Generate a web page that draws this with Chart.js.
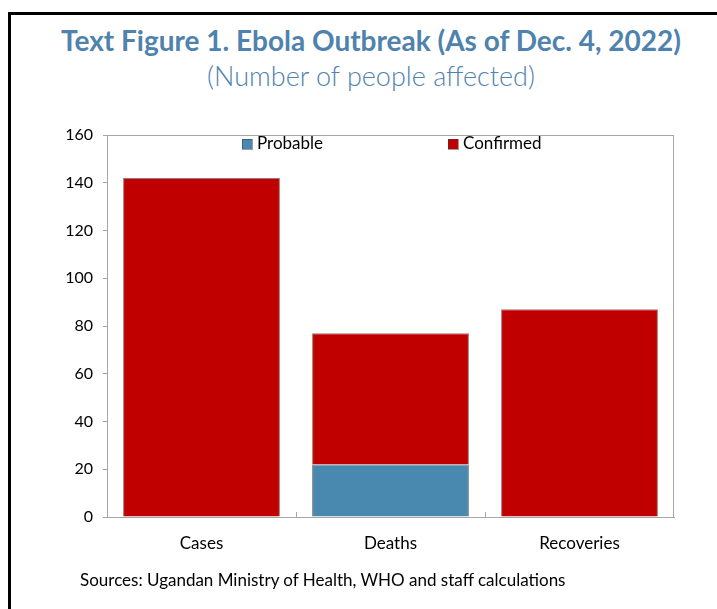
<!DOCTYPE html>
<html>
<head>
<meta charset="utf-8">
<script src="https://cdn.jsdelivr.net/npm/chart.js@4"></script>
<style>
  body { margin: 0; background: #fff; }
  #wrap { position: relative; width: 717px; height: 609px; overflow: hidden; }
  #frame { position: absolute; left: 8px; top: 12px; width: 720px; height: 620px;
           border-left: 3px solid #000; border-top: 3px solid #000; box-sizing: border-box; }
  .title { position: absolute; left: 0; width: 742px; text-align: center; color: #4f82ad;
           font-family: Lato, "Open Sans", sans-serif; }
  #t1 { top: 23px; font-size: 28px; font-weight: bold; }
  #t2 { top: 59px; font-size: 27px; font-weight: 300; }
  #src { position: absolute; left: 80px; top: 569px; font-family: Lato, sans-serif; font-size: 17px; color: #000; }
  canvas { position: absolute; left: 0; top: 0; }
</style>
</head>
<body>
<div id="wrap">
  <div id="frame"></div>
  <div class="title" id="t1">Text Figure 1. Ebola Outbreak (As of Dec. 4, 2022)</div>
  <div class="title" id="t2">(Number of people affected)</div>
  <canvas id="chart" width="717" height="609"></canvas>
  <div id="src">Sources: Ugandan Ministry of Health, WHO and staff calculations</div>
</div>
<script>
const categories = ["Cases", "Deaths", "Recoveries"];
const probable = [0, 22, 0];
const confirmed = [142, 55, 87];
const yTicks = [0, 20, 40, 60, 80, 100, 120, 140, 160];

const axisGrey = "#a6a6a6";

// cadre gris autour de la zone du graphique + petits traits de l'axe x + légende interne
const framePlugin = {
  id: "framePlugin",
  afterDraw(chart) {
    const { ctx, chartArea: a } = chart;
    ctx.save();
    ctx.strokeStyle = axisGrey;
    ctx.lineWidth = 1;
    ctx.strokeRect(a.left + 0.5, a.top + 0.5, a.right - a.left - 1, a.bottom - a.top);
    // traits entre catégories, vers l'intérieur
    const step = (a.right - a.left) / categories.length;
    for (let i = 1; i < categories.length; i++) {
      const x = Math.round(a.left + step * i) + 0.5;
      ctx.beginPath();
      ctx.moveTo(x, a.bottom);
      ctx.lineTo(x, a.bottom - 5);
      ctx.stroke();
    }
    // légende dans le cadre
    const items = [
      { label: "Probable", color: "#4a89af", x: 0.238 },
      { label: "Confirmed", color: "#c00000", x: 0.601 },
    ];
    ctx.font = "17px Lato, sans-serif";
    ctx.textBaseline = "middle";
    items.forEach((it) => {
      const x = Math.round(a.left + (a.right - a.left) * it.x);
      const y = a.top + 4;
      ctx.fillStyle = it.color;
      ctx.fillRect(x, y, 10, 10);
      ctx.strokeStyle = "rgba(60,60,60,0.5)";
      ctx.strokeRect(x + 0.5, y + 0.5, 10, 10);
      ctx.fillStyle = "#000";
      ctx.fillText(it.label, x + 15, y + 5);
    });
    ctx.restore();
  },
};

new Chart(document.getElementById("chart"), {
  type: "bar",
  data: {
    labels: categories,
    datasets: [
      {
        label: "Probable",
        data: probable,
        backgroundColor: "#4a89af",
        borderColor: "rgba(50,50,50,0.6)",
        borderWidth: 1,
        barPercentage: 0.83,
        categoryPercentage: 1,
      },
      {
        label: "Confirmed",
        data: confirmed,
        backgroundColor: "#c00000",
        borderColor: "rgba(90,30,30,0.6)",
        borderWidth: 1,
        barPercentage: 0.83,
        categoryPercentage: 1,
      },
    ],
  },
  options: {
    responsive: false,
    animation: false,
    layout: { padding: { left: 57, right: 43, top: 135, bottom: 52 } },
    plugins: {
      legend: { display: false },
      tooltip: { enabled: false },
    },
    scales: {
      x: {
        stacked: true,
        grid: { display: false },
        border: { color: axisGrey },
        ticks: { color: "#000", font: { family: "Lato", size: 17 }, padding: 8 },
        afterFit: (s) => { s.height = 40; },
      },
      y: {
        stacked: true,
        min: 0,
        max: 160,
        afterBuildTicks: (s) => { s.ticks = yTicks.map((v) => ({ value: v })); },
        grid: { drawOnChartArea: false, drawTicks: true, tickLength: 4, color: axisGrey },
        border: { color: axisGrey },
        ticks: { color: "#000", font: { family: "Lato", size: 16 }, padding: 10 },
        afterFit: (s) => { s.width = 50; },
      },
    },
  },
  plugins: [framePlugin],
});
</script>
</body>
</html>
